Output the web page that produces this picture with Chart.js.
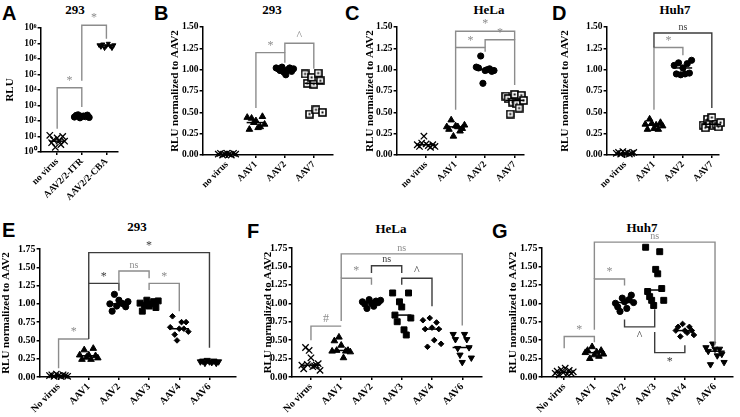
<!DOCTYPE html>
<html>
<head>
<meta charset="utf-8">
<script src="https://cdn.jsdelivr.net/npm/chart.js@4.4.1/dist/chart.umd.min.js"></script>
<style>
  html, body { margin: 0; padding: 0; background: #fff; overflow: hidden; }
  #fig { position: relative; width: 740px; height: 417px; }
  canvas { position: absolute; }
  .letter { position: absolute; font: bold 20px 'Liberation Sans', Arial, sans-serif; line-height: 20px; color: #000; }
  .ttl { position: absolute; width: 100px; text-align: center; font: bold 13px 'Liberation Serif', serif; line-height: 14px; color: #000; }
</style>
</head>
<body>
<div id="fig">
  <div class="letter" style="left:2px;top:3px">A</div>
  <div class="letter" style="left:154px;top:3px">B</div>
  <div class="letter" style="left:345px;top:3px">C</div>
  <div class="letter" style="left:552px;top:3px">D</div>
  <div class="letter" style="left:2px;top:220px">E</div>
  <div class="letter" style="left:247px;top:221px">F</div>
  <div class="letter" style="left:492px;top:221px">G</div>

  <div class="ttl" style="left:25px;top:3px">293</div>
  <div class="ttl" style="left:222px;top:3px">293</div>
  <div class="ttl" style="left:439px;top:3px">HeLa</div>
  <div class="ttl" style="left:625px;top:3px">Huh7</div>
  <div class="ttl" style="left:87px;top:220px">293</div>
  <div class="ttl" style="left:341px;top:222px">HeLa</div>
  <div class="ttl" style="left:592px;top:221px">Huh7</div>

  <canvas id="chA"></canvas>
  <canvas id="chB"></canvas>
  <canvas id="chC"></canvas>
  <canvas id="chD"></canvas>
  <canvas id="chE"></canvas>
  <canvas id="chF"></canvas>
  <canvas id="chG"></canvas>
</div>

<script>
// ===== fonts / colours =====
const SERIF = "'Liberation Serif', 'Times New Roman', serif";
const GRAY = '#8c8c8c';
const DARK = '#3c3c3c';
const YLABEL = 'RLU normalized to AAV2';

// ===== tick labels =====
const logTicks = [1, 1e1, 1e2, 1e3, 1e4, 1e5, 1e6, 1e7, 1e8];
const ticks150 = [0, 0.25, 0.5, 0.75, 1, 1.25, 1.5];
const ticks175 = [0, 0.25, 0.5, 0.75, 1, 1.25, 1.5, 1.75];

// ===== A: 293, RLU (log) =====
const catsA = ['no virus', 'AAV2/2-ITR', 'AAV2/2-CBA'];
const noVirusA = [12, 4, 6, 2, 8, 5, 3, 10, 5];
const itrA = [180, 230, 250, 160, 200, 210, 190, 240, 170];
const cbaA = [8e6, 6e6, 9e6, 5e6, 7e6, 1e7, 7e6, 5e6, 8e6];
const bracketsA = [
  [0, 1, 1.4e4, 32, 800, '*', GRAY],
  [1, 2, 1.5e8, 4e4, 2e7, '*', GRAY]
];

// ===== B: 293 =====
const cats4 = ['no virus', 'AAV1', 'AAV2', 'AAV7'];
const noVirusB = [0.01, 0.02, 0.00, 0.01, 0.02, 0.01, 0.00, 0.02, 0.01];
const aav1B = [0.44, 0.30, 0.43, 0.38, 0.40, 0.32, 0.33, 0.45, 0.36];
const aav2B = [1.02, 1.01, 0.99, 1.03, 0.97, 0.94, 1.00, 1.02, 0.98, 1.01];
const aav7B = [0.95, 0.84, 0.48, 0.91, 0.83, 0.53, 0.96, 0.87, 0.50];
const bracketsB = [
  [1, 2, 1.20, 0.55, 1.08, '*', GRAY],
  [2, 3, 1.31, 1.20, 1.01, '^', GRAY]
];

// ===== C: HeLa =====
const noVirusC = [0.12, 0.10, 0.14, 0.22, 0.13, 0.11, 0.09, 0.12, 0.10];
const aav1C = [0.33, 0.30, 0.41, 0.22, 0.34, 0.33, 0.28, 0.31, 0.35];
const aav2C = [1.03, 1.02, 1.16, 0.84, 0.99, 1.00, 1.01, 0.98, 0.99];
const aav7C = [0.69, 0.66, 0.48, 0.62, 0.71, 0.60, 0.55, 0.70, 0.64];
const bracketsC = [
  [1, 2, 1.26, 0.53, 1.21, '*', GRAY],
  [2, 3, 1.35, 1.26, 0.82, '*', GRAY],
  [1, 3, 1.45, 1.26, 1.35, '*', GRAY]
];

// ===== D: Huh7 =====
const noVirusD = [0.02, 0.03, 0.01, 0.04, 0.02, 0.03, 0.01, 0.02, 0.03];
const aav1D = [0.36, 0.30, 0.42, 0.37, 0.31, 0.35, 0.30, 0.38, 0.34];
const aav2D = [1.05, 0.95, 1.08, 0.94, 1.02, 0.95, 1.07, 0.96, 1.11];
const aav7D = [0.35, 0.32, 0.42, 0.37, 0.44, 0.34, 0.36, 0.33, 0.38];
const bracketsD = [
  [1, 2, 1.26, 0.53, 1.17, '*', GRAY],
  [1, 3, 1.43, 1.26, 0.55, 'ns', DARK]
];

// ===== E: 293 =====
const cats6 = ['No virus', 'AAV1', 'AAV2', 'AAV3', 'AAV4', 'AAV6'];
const noVirusE = [0.02, 0.03, 0.01, 0.04, 0.02, 0.01, 0.03, 0.02, 0.01];
const aav1E = [0.30, 0.24, 0.37, 0.27, 0.30, 0.24, 0.39, 0.29, 0.26];
const aav2E = [1.00, 0.90, 1.13, 0.97, 1.05, 1.01, 1.00, 0.96, 1.03];
const aav3E = [1.01, 0.90, 0.98, 1.05, 0.97, 1.00, 1.03, 0.95, 1.04];
const aav4E = [0.68, 0.83, 0.58, 0.50, 0.66, 0.75, 0.66, 0.75, 0.62];
const aav6E = [0.21, 0.22, 0.19, 0.23, 0.21, 0.20, 0.22, 0.19, 0.21];
const bracketsE = [
  [0, 1, 0.52, 0.12, 0.52, '*', GRAY],
  [1, 2, 1.28, 0.52, 1.18, '*', DARK],
  [2, 3, 1.45, 1.28, 1.35, 'ns', GRAY],
  [3, 4, 1.28, 1.19, 0.90, '*', GRAY],
  [1, 5, 1.70, 1.28, 0.40, '*', DARK]
];

// ===== F: HeLa =====
const noVirusF = [0.16, 0.11, 0.40, 0.17, 0.36, 0.26, 0.14, 0.15, 0.16, 0.18, 0.09];
const aav1F = [0.35, 0.49, 0.36, 0.54, 0.43, 0.26, 0.35, 0.36, 0.34];
const aav2F = [1.02, 0.99, 0.93, 1.05, 1.00, 0.96, 1.03, 1.01, 1.04];
const aav3F = [1.14, 0.84, 0.75, 1.02, 0.95, 0.64, 0.57, 1.14, 0.80];
const aav4F = [0.77, 0.65, 0.41, 0.80, 0.67, 0.50, 0.74, 0.65, 0.45];
const aav6F = [0.58, 0.51, 0.39, 0.30, 0.20, 0.58, 0.51, 0.40, 0.26];
const bracketsF = [
  [0, 1, 0.69, 0.50, 0.69, '#', GRAY],
  [1, 2, 1.34, 0.76, 1.25, '*', GRAY],
  [2, 3, 1.51, 1.41, 1.41, 'ns', DARK],
  [3, 4, 1.34, 1.25, 0.96, '^', DARK],
  [1, 5, 1.67, 1.34, 0.70, 'ns', GRAY]
];

// ===== G: Huh7 =====
const noVirusG = [0.05, 0.08, 0.03, 0.10, 0.06, 0.12, 0.04, 0.09, 0.05, 0.07];
const aav1G = [0.33, 0.36, 0.25, 0.41, 0.30, 0.34, 0.28, 0.36, 0.31];
const aav2G = [1.00, 0.95, 0.89, 1.07, 1.02, 0.93, 1.05, 1.11, 1.01];
const aav3G = [1.76, 1.16, 1.09, 1.04, 0.97, 1.46, 1.40, 1.70, 1.20, 1.04];
const aav4G = [0.63, 0.68, 0.55, 0.72, 0.63, 0.60, 0.68, 0.63, 0.57];
const aav6G = [0.40, 0.35, 0.17, 0.45, 0.38, 0.29, 0.38, 0.31, 0.20];
const bracketsG = [
  [0, 1, 0.55, 0.39, 0.47, '*', GRAY],
  [1, 2, 1.33, 0.64, 1.24, '*', GRAY],
  [1, 5, 1.83, 1.33, 0.43, 'ns', GRAY],
  [2, 3, 0.68, 0.78, 0.92, '^', DARK],
  [3, 4, 0.33, 0.61, 0.43, '*', DARK]
];

// ===== marker styles =====
function squareDot() {
  const c = document.createElement('canvas');
  c.width = 9; c.height = 9;
  const g = c.getContext('2d');
  g.fillStyle = '#fff';
  g.fillRect(1, 1, 7, 7);
  g.strokeStyle = '#000';
  g.lineWidth = 1.6;
  g.strokeRect(1, 1, 7, 7);
  g.fillStyle = '#000';
  g.fillRect(3.5, 3.5, 2, 2);
  return c;
}
const STY = {
  x:     { pointStyle: 'crossRot', pointRadius: 4.5, borderWidth: 1.3 },
  tri:   { pointStyle: 'triangle', pointRadius: 3.8 },
  circ:  { pointStyle: 'circle', pointRadius: 3.1 },
  sqd:   { pointStyle: squareDot() },
  rect:  { pointStyle: 'rect', pointRadius: 4.2 },
  dia:   { pointStyle: 'rectRot', pointRadius: 2.8 },
  dtri:  { pointStyle: 'triangle', pointRadius: 3.6, pointRotation: 180 },
  small: { pointStyle: 'triangle', pointRadius: 2.4, pointRotation: 180 }
};

// ===== layout of each panel (pixels) =====
const geoA = { labelX: 11,  axisX: 41,  cat0: 58.3,  step: 25.7, right: 122, top: 28,  bottom: 152, xh: 58, fs: 9.5 };
const geoB = { labelX: 176, axisX: 203, cat0: 228,   step: 29.7, right: 337, top: 27,  bottom: 155, xh: 45, fs: 9.5 };
const geoC = { labelX: 371, axisX: 397, cat0: 427.3, step: 30.3, right: 528, top: 27,  bottom: 155, xh: 45, fs: 9.5 };
const geoD = { labelX: 566, axisX: 607, cat0: 626,   step: 29.8, right: 723, top: 27,  bottom: 155, xh: 45, fs: 9.5 };
const geoE = { labelX: 7,   axisX: 40,  cat0: 59.3,  step: 30.7, right: 240, top: 249, bottom: 377, xh: 38, fs: 10 };
const geoF = { labelX: 269, axisX: 292, cat0: 311.7, step: 30.8, right: 486, top: 248, bottom: 377, xh: 38, fs: 10 };
const geoG = { labelX: 514, axisX: 542, cat0: 565,   step: 30.7, right: 737, top: 248, bottom: 377, xh: 38, fs: 10 };
const PADTOP = 22;

// ===== helpers =====
const SUP = '⁰¹²³⁴⁵⁶⁷⁸⁹';
function median(arr) {
  const s = [...arr].sort((a, b) => a - b);
  const m = Math.floor(s.length / 2);
  return s.length % 2 ? s[m] : (s[m - 1] + s[m]) / 2;
}
function spread(vals, i, w = 0.6) {
  const n = vals.length;
  return vals.map((v, j) => ({ x: i + (n > 1 ? -w / 2 + w * j / (n - 1) : 0), y: v }));
}

// medians + significance brackets
function marksPlugin(groups, brackets) {
  return {
    id: 'marks',
    afterDatasetsDraw(chart) {
      const { ctx } = chart;
      const xs = chart.scales.x, ys = chart.scales.y;
      ctx.save();
      ctx.lineCap = 'butt';
      ctx.strokeStyle = '#000';
      ctx.lineWidth = 1.5;
      groups.forEach((vals, i) => {
        const y = ys.getPixelForValue(median(vals));
        ctx.beginPath();
        ctx.moveTo(xs.getPixelForValue(i - 0.32), y);
        ctx.lineTo(xs.getPixelForValue(i + 0.32), y);
        ctx.stroke();
      });
      brackets.forEach(([a, b, yBar, yA, yB, label, color]) => {
        const xa = xs.getPixelForValue(a), xb = xs.getPixelForValue(b);
        const yb = ys.getPixelForValue(yBar);
        ctx.strokeStyle = color;
        ctx.lineWidth = 1.4;
        ctx.beginPath();
        ctx.moveTo(xa, ys.getPixelForValue(yA));
        ctx.lineTo(xa, yb);
        ctx.lineTo(xb, yb);
        ctx.lineTo(xb, ys.getPixelForValue(yB));
        ctx.stroke();
        const above = yBar >= Math.max(yA, yB);
        ctx.fillStyle = color;
        ctx.font = (label === 'ns' ? '10px ' : '12px ') + SERIF;
        ctx.textAlign = 'center';
        ctx.textBaseline = above ? 'bottom' : 'top';
        ctx.fillText(label, (xa + xb) / 2, above ? yb - 1 : yb + 3);
      });
      ctx.restore();
    }
  };
}

function panel(id, g, cats, groups, marks, yTicks, brackets, yTitle, log) {
  const canvas = document.getElementById(id);
  const L = g.labelX - 6.6, T = g.top - PADTOP;
  canvas.width = g.right - L + 3;
  canvas.height = g.bottom - T + g.xh;
  canvas.style.left = L + 'px';
  canvas.style.top = T + 'px';
  const tickFont = { family: SERIF, weight: 'bold', size: g.fs };

  const datasets = groups.map((vals, i) => Object.assign({
    data: spread(vals, i),
    backgroundColor: '#000',
    borderColor: '#000',
    borderWidth: 1,
    showLine: false,
    clip: false
  }, STY[marks[i]]));

  const yScale = {
    min: yTicks[0],
    max: yTicks[yTicks.length - 1],
    afterBuildTicks: s => { s.ticks = yTicks.map(v => ({ value: v })); },
    afterFit: s => { s.width = g.axisX - L; },
    ticks: {
      color: '#000', font: tickFont, padding: 1,
      callback: v => log ? '10' + SUP[Math.round(Math.log10(v))] : v.toFixed(2)
    },
    grid: { drawOnChartArea: false, tickLength: 3, color: '#000', lineWidth: 1.5 },
    border: { color: '#000', width: 1.5 },
    title: { display: true, text: yTitle, color: '#000', padding: 0,
             font: { family: SERIF, weight: 'bold', size: 11 } }
  };
  if (log) yScale.type = 'logarithmic';

  return new Chart(canvas, {
    type: 'scatter',
    data: { datasets },
    options: {
      responsive: false,
      animation: false,
      layout: { padding: { top: PADTOP, right: 3, left: 0, bottom: 0 } },
      plugins: { legend: { display: false }, tooltip: { enabled: false } },
      scales: {
        x: {
          type: 'linear',
          bounds: 'data',
          min: (g.axisX - g.cat0) / g.step,
          max: (g.right - g.cat0) / g.step,
          afterBuildTicks: s => { s.ticks = cats.map((c, i) => ({ value: i })); },
          afterFit: s => { s.height = g.xh; },
          ticks: {
            autoSkip: false, minRotation: 45, maxRotation: 45, padding: 1,
            color: '#000', font: tickFont,
            callback: v => cats[v]
          },
          grid: { drawOnChartArea: false, tickLength: 3, color: '#000', lineWidth: 1.5 },
          border: { color: '#000', width: 1.5 }
        },
        y: yScale
      }
    },
    plugins: [marksPlugin(groups, brackets)]
  });
}

panel('chA', geoA, catsA, [noVirusA, itrA, cbaA], ['x', 'circ', 'small'], logTicks, bracketsA, 'RLU', true);
panel('chB', geoB, cats4, [noVirusB, aav1B, aav2B, aav7B], ['x', 'tri', 'circ', 'sqd'], ticks150, bracketsB, YLABEL);
panel('chC', geoC, cats4, [noVirusC, aav1C, aav2C, aav7C], ['x', 'tri', 'circ', 'sqd'], ticks150, bracketsC, YLABEL);
panel('chD', geoD, cats4, [noVirusD, aav1D, aav2D, aav7D], ['x', 'tri', 'circ', 'sqd'], ticks150, bracketsD, YLABEL);
panel('chE', geoE, cats6, [noVirusE, aav1E, aav2E, aav3E, aav4E, aav6E], ['x', 'tri', 'circ', 'rect', 'dia', 'dtri'], ticks175, bracketsE, YLABEL);
panel('chF', geoF, cats6, [noVirusF, aav1F, aav2F, aav3F, aav4F, aav6F], ['x', 'tri', 'circ', 'rect', 'dia', 'dtri'], ticks175, bracketsF, YLABEL);
panel('chG', geoG, cats6, [noVirusG, aav1G, aav2G, aav3G, aav4G, aav6G], ['x', 'tri', 'circ', 'rect', 'dia', 'dtri'], ticks175, bracketsG, YLABEL);
</script>
</body>
</html>
